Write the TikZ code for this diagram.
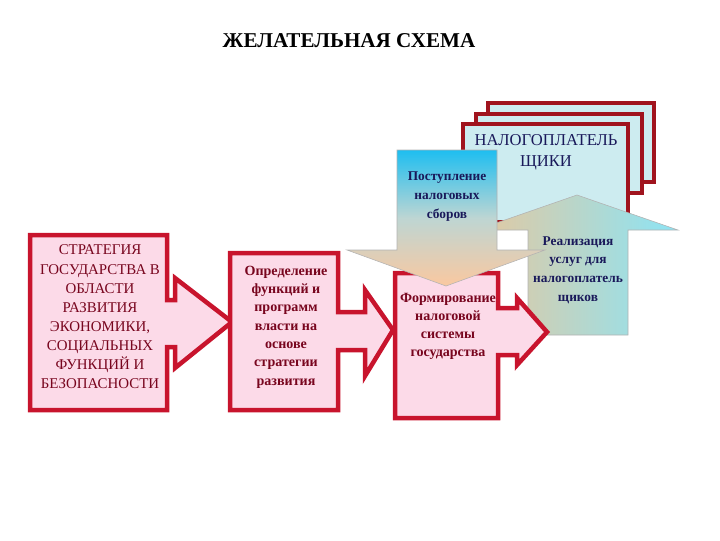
\documentclass[tikz,border=0pt]{standalone}
\usepackage{fontspec}
\setmainfont{Liberation Serif}
\usepackage{tikz}
\usetikzlibrary{positioning, calc}
\definecolor{boxred}{RGB}{200,20,45}
\definecolor{boxpink}{RGB}{252,218,232}
\definecolor{cardred}{RGB}{160,20,30}
\definecolor{cardcyan}{RGB}{205,236,240}
\definecolor{inkred}{RGB}{120,5,30}
\definecolor{inknavy}{RGB}{25,25,90}
\definecolor{skyblue}{RGB}{30,190,240}
\definecolor{peach}{RGB}{250,200,160}
\definecolor{sand}{RGB}{228,200,160}
\definecolor{lightcyan}{RGB}{140,228,245}
\tikzset{
	redarrow/.style={draw=boxred, line width=3.2pt, fill=boxpink, line join=miter}, % pink block arrows
	card/.style={draw=cardred, line width=2.2pt, fill=cardcyan}, % stacked taxpayer cards
	flow/.style={draw=gray!60, line width=0.4pt}, % shaded arrows
	txt/.style={align=center, font=\bfseries\fontsize{10}{13}\selectfont}, % text in the shapes
}

\begin{document}
\begin{tikzpicture}[x=0.025cm, y=-0.025cm]
        \useasboundingbox (0,0) rectangle (720,540);
        % Title
        \node[font=\bfseries\fontsize{15}{17}\selectfont] (title) at (349,41) {ЖЕЛАТЕЛЬНАЯ СХЕМА};

        % Taxpayer cards
        \draw[card] (488,103) rectangle (654,182);
        \draw[card] (476,114) rectangle (642,193);
        \draw[card] (463,124) rectangle (628,222);

        % Arrow up to the taxpayers
        \shade[flow, left color=sand, right color=lightcyan]
            (528,335) -- (528,230) -- (476,230) -- (577,195) -- (678,230)
            -- (628,230) -- (628,335) -- cycle;

        % Block arrows from left to right
        \draw[redarrow] (30,235) -- (167,235) -- (167,300) -- (175,300) -- (175,278)
            -- (232,322) -- (175,368) -- (175,347) -- (167,347) -- (167,410) -- (30,410) -- cycle;
        \draw[redarrow] (230,253) -- (338,253) -- (338,312) -- (365,312) -- (365,290)
            -- (393,330) -- (365,376) -- (365,350) -- (338,350) -- (338,410) -- (230,410) -- cycle;
        \draw[redarrow] (395,273) -- (498,273) -- (498,308) -- (517,308) -- (517,298)
            -- (547,332) -- (517,365) -- (517,355) -- (498,355) -- (498,418) -- (395,418) -- cycle;

        % Arrow down from the taxpayers
        \shade[flow, top color=skyblue, bottom color=peach, middle color=peach!60!skyblue!70]
            (397,150) -- (497,150) -- (497,250) -- (545,250) -- (446,286)
            -- (347,250) -- (397,250) -- cycle;

        % Texts
        \node[txt, font=\fontsize{10.6}{13.6}\selectfont, text=inkred] (strat) at (100,317)
            {СТРАТЕГИЯ\\ГОСУДАРСТВА В\\ОБЛАСТИ\\РАЗВИТИЯ\\ЭКОНОМИКИ,\\СОЦИАЛЬНЫХ\\ФУНКЦИЙ И\\БЕЗОПАСНОСТИ};
        \node[txt, text=inkred] (func) at (286,327)
            {Определение\\функций и\\программ\\власти на\\основе\\стратегии\\развития};
        \node[txt, text=inkred, font=\bfseries\fontsize{10}{12.8}\selectfont] (form) at (448,326)
            {Формирование\\налоговой\\системы\\государства};
        \node[txt, text=inknavy, font=\fontsize{11.8}{15}\selectfont] (pay) at (546,152)
            {НАЛОГОПЛАТЕЛЬ\\ЩИКИ};
        \node[txt, text=inknavy, font=\bfseries\fontsize{9.5}{13.5}\selectfont] (post) at (447,197)
            {Поступление\\налоговых\\сборов};
        \node[txt, text=inknavy, font=\bfseries\fontsize{9.5}{13.2}\selectfont] (real) at (578,270)
            {Реализация\\услуг для\\налогоплатель\\щиков};
\end{tikzpicture}
\end{document}
